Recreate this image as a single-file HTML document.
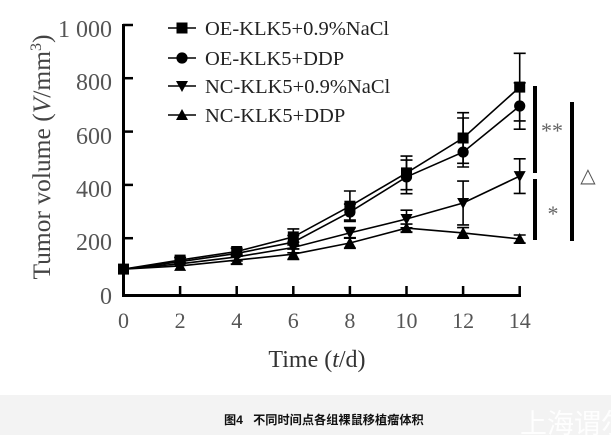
<!DOCTYPE html>
<html><head><meta charset="utf-8"><style>
html,body{margin:0;padding:0;background:#fff;}
body{width:611px;height:435px;overflow:hidden;position:relative;}
.band{position:absolute;left:0;top:395px;width:611px;height:40px;background:#f3f3f3;overflow:hidden;}
.cap{position:absolute;left:224px;top:410px;font:bold 12.2px "Liberation Sans","Noto Sans CJK SC",sans-serif;color:#111;white-space:nowrap;}
.wm{position:absolute;left:520px;top:402px;font:27px "Liberation Sans","Noto Sans CJK SC",sans-serif;color:rgba(255,255,255,0.9);white-space:nowrap;}
svg{position:absolute;left:0;top:0;}
</style></head><body>
<div class="band"></div>
<div class="cap">图4&nbsp;&nbsp;&nbsp;不同时间点各组裸鼠移植瘤体积</div>
<div class="wm">上海谓尔</div>
<svg width="611" height="395" viewBox="0 0 611 395" xmlns="http://www.w3.org/2000/svg">
<defs>
<rect id="sq" x="-5.5" y="-5.5" width="11" height="11" fill="#000"/>
<circle id="ci" cx="0" cy="0" r="5.6" fill="#000"/>
<polygon id="dn" points="-6,-5 6,-5 0,6" fill="#000"/>
<polygon id="up" points="-6,5 6,5 0,-6" fill="#000"/>
</defs>
<g font-family="'Liberation Serif',serif" fill="#555">
<g font-size="24" text-anchor="end">
<text x="112" y="37">1 000</text>
<text x="112" y="90">800</text>
<text x="112" y="144">600</text>
<text x="112" y="197">400</text>
<text x="112" y="250">200</text>
<text x="112" y="304">0</text>
</g>
<g font-size="22" text-anchor="middle">
<text x="123.5" y="328">0</text>
<text x="180.1" y="328">2</text>
<text x="236.7" y="328">4</text>
<text x="293.3" y="328">6</text>
<text x="349.9" y="328">8</text>
<text x="406.5" y="328">10</text>
<text x="463.1" y="328">12</text>
<text x="519.7" y="328">14</text>
</g>
<text x="317" y="367" font-size="24" text-anchor="middle" fill="#333">Time (<tspan font-style="italic">t</tspan>/d)</text>
<text transform="translate(50,157) rotate(-90)" font-size="25.5" text-anchor="middle" fill="#444">Tumor volume (<tspan font-style="italic">V</tspan>/mm<tspan font-size="16" dy="-9">3</tspan><tspan dy="9">)</tspan></text>
</g>
<g stroke="#000" stroke-width="3" fill="none">
<line x1="123.5" y1="24" x2="123.5" y2="297"/>
<line x1="122" y1="295.5" x2="521" y2="295.5"/>
</g>
<g stroke="#000" stroke-width="2.5">
<line x1="123" y1="25" x2="133" y2="25"/>
<line x1="123" y1="78.2" x2="133" y2="78.2"/>
<line x1="123" y1="131.6" x2="133" y2="131.6"/>
<line x1="123" y1="184.9" x2="133" y2="184.9"/>
<line x1="123" y1="238.2" x2="133" y2="238.2"/>
<line x1="180.1" y1="286" x2="180.1" y2="295"/>
<line x1="236.7" y1="286" x2="236.7" y2="295"/>
<line x1="293.3" y1="286" x2="293.3" y2="295"/>
<line x1="349.9" y1="286" x2="349.9" y2="295"/>
<line x1="406.5" y1="286" x2="406.5" y2="295"/>
<line x1="463.1" y1="286" x2="463.1" y2="295"/>
<line x1="519.7" y1="286" x2="519.7" y2="295"/>
</g>
<g stroke="#000" stroke-width="1.6" fill="none">
<polyline points="123.5,269.1 180.1,260.1 236.7,251.5 293.3,236.9 349.9,206.2 406.5,172.9 463.1,138 519.7,87.1"/>
<polyline points="123.5,269.1 180.1,261.7 236.7,253.4 293.3,242.2 349.9,212.1 406.5,176.9 463.1,152.1 519.7,106"/>
<polyline points="123.5,269.1 180.1,263.8 236.7,256.9 293.3,247.5 349.9,232.9 406.5,219 463.1,203 519.7,176.1"/>
<polyline points="123.5,269.1 180.1,265.9 236.7,260.1 293.3,254.2 349.9,243 406.5,228.1 463.1,232.9 519.7,239"/>
</g>
<g stroke="#000" stroke-width="1.6" fill="none">
<path d="M180.1 257.4V262.8M174.1 257.4H186.1M174.1 262.8H186.1"/>
<path d="M236.7 248.3V254.7M230.7 248.3H242.7M230.7 254.7H242.7"/>
<path d="M293.3 228.9V244.9M287.3 228.9H299.3M287.3 244.9H299.3"/>
<path d="M349.9 191V221.4M343.9 191H355.9M343.9 221.4H355.9"/>
<path d="M406.5 156.1V189.7M400.5 156.1H412.5M400.5 189.7H412.5"/>
<path d="M463.1 112.7V163.3M457.1 112.7H469.1M457.1 163.3H469.1"/>
<path d="M519.7 53.3V120.9M513.7 53.3H525.7M513.7 120.9H525.7"/>
<path d="M293.3 235.5V248.9M287.3 235.5H299.3M287.3 248.9H299.3"/>
<path d="M349.9 204.1V220.1M343.9 204.1H355.9M343.9 220.1H355.9"/>
<path d="M406.5 160.1V193.7M400.5 160.1H412.5M400.5 193.7H412.5"/>
<path d="M463.1 118V167M457.1 118H469.1M457.1 167H469.1"/>
<path d="M519.7 82.8V129.2M513.7 82.8H525.7M513.7 129.2H525.7"/>
<path d="M236.7 252.9V260.9M230.7 252.9H242.7M230.7 260.9H242.7"/>
<path d="M293.3 242.2V252.8M287.3 242.2H299.3M287.3 252.8H299.3"/>
<path d="M349.9 227.6V238.2M343.9 227.6H355.9M343.9 238.2H355.9"/>
<path d="M406.5 210.2V227.8M400.5 210.2H412.5M400.5 227.8H412.5"/>
<path d="M463.1 181.1V224.9M457.1 181.1H469.1M457.1 224.9H469.1"/>
<path d="M519.7 158.8V193.4M513.7 158.8H525.7M513.7 193.4H525.7"/>
<path d="M236.7 256.1V264.1M230.7 256.1H242.7M230.7 264.1H242.7"/>
<path d="M293.3 248.9V259.5M287.3 248.9H299.3M287.3 259.5H299.3"/>
<path d="M349.9 237.7V248.3M343.9 237.7H355.9M343.9 248.3H355.9"/>
<path d="M406.5 224.1V232.1M400.5 224.1H412.5M400.5 232.1H412.5"/>
<path d="M463.1 227.6V238.2M457.1 227.6H469.1M457.1 238.2H469.1"/>
<path d="M519.7 235V243M513.7 235H525.7M513.7 243H525.7"/>
</g>
<use href="#up" x="180.1" y="265.9"/><use href="#up" x="236.7" y="260.1"/><use href="#up" x="293.3" y="254.2"/><use href="#up" x="349.9" y="243"/><use href="#up" x="406.5" y="228.1"/><use href="#up" x="463.1" y="232.9"/><use href="#up" x="519.7" y="239"/>
<use href="#dn" x="180.1" y="263.8"/><use href="#dn" x="236.7" y="256.9"/><use href="#dn" x="293.3" y="247.5"/><use href="#dn" x="349.9" y="232.9"/><use href="#dn" x="406.5" y="219"/><use href="#dn" x="463.1" y="203"/><use href="#dn" x="519.7" y="176.1"/>
<use href="#ci" x="180.1" y="261.7"/><use href="#ci" x="236.7" y="253.4"/><use href="#ci" x="293.3" y="242.2"/><use href="#ci" x="349.9" y="212.1"/><use href="#ci" x="406.5" y="176.9"/><use href="#ci" x="463.1" y="152.1"/><use href="#ci" x="519.7" y="106"/>
<use href="#sq" x="123.5" y="269.1"/><use href="#sq" x="180.1" y="260.1"/><use href="#sq" x="236.7" y="251.5"/><use href="#sq" x="293.3" y="236.9"/><use href="#sq" x="349.9" y="206.2"/><use href="#sq" x="406.5" y="172.9"/><use href="#sq" x="463.1" y="138"/><use href="#sq" x="519.7" y="87.1"/>
<g fill="#000">
<rect x="533" y="86" width="4" height="87"/>
<rect x="533" y="179" width="4" height="61"/>
<rect x="570" y="102" width="4" height="139"/>
</g>
<g font-family="'Liberation Serif',serif" fill="#666" font-size="22" text-anchor="middle">
<text x="552" y="138">**</text>
<text x="553" y="221">*</text>
<text x="588" y="182" font-family="'DejaVu Sans',sans-serif" font-size="20" fill="#555">△</text>
</g>
<g stroke="#000" stroke-width="1.6">
<line x1="168" y1="28" x2="196" y2="28"/>
<line x1="168" y1="58" x2="196" y2="58"/>
<line x1="168" y1="86" x2="196" y2="86"/>
<line x1="168" y1="115" x2="196" y2="115"/>
</g>
<use href="#sq" x="182" y="28"/>
<use href="#ci" x="182" y="58"/>
<use href="#dn" x="182" y="86"/>
<use href="#up" x="182" y="115"/>
<g font-family="'Liberation Serif',serif" font-size="20.5" fill="#222">
<text x="205" y="35">OE-KLK5+0.9%NaCl</text>
<text x="205" y="65">OE-KLK5+DDP</text>
<text x="205" y="93">NC-KLK5+0.9%NaCl</text>
<text x="205" y="122">NC-KLK5+DDP</text>
</g>
</svg>
</body></html>
